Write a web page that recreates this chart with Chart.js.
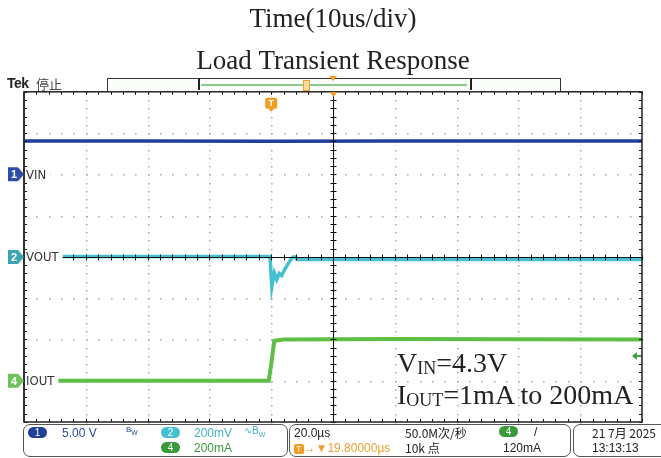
<!DOCTYPE html>
<html>
<head>
<meta charset="utf-8">
<script src="https://cdn.jsdelivr.net/npm/chart.js@4.4.0/dist/chart.umd.min.js"></script>
<style>
  body { margin: 0; background: #fff; }
  #wrap { position: relative; width: 661px; height: 458px; overflow: hidden; }
  #wrap canvas { position: absolute; left: 0; top: 0; }
  .ui { position: absolute; font-family: "Liberation Sans", Arial, sans-serif; font-size: 12px; color: #333; white-space: nowrap; }
  .cjk { font-family: "Noto Sans CJK SC", "Liberation Sans", sans-serif; }
  .box { position: absolute; border: 1px solid #555; border-radius: 7px; }
  .pill { position: absolute; width: 19px; height: 11px; border-radius: 6px; color: #fff; font: 10px "Liberation Sans", sans-serif; line-height: 11px; text-align: center; }
  .note { position: absolute; font-family: "Liberation Serif", "Times New Roman", serif; font-size: 28px; color: #222; white-space: nowrap; }
  .note sub { font-size: 18px; vertical-align: -2px; }
</style>
</head>
<body>
<div id="wrap">
  <canvas id="scopeChart" width="661" height="458"></canvas>

  <!-- top status row -->
  <div class="ui" style="left:7px;top:75px;font-weight:bold;font-size:14px;color:#222;letter-spacing:-0.5px;">Tek</div>
  <div class="ui cjk" style="left:36px;top:74px;font-size:13px;color:#444;">停止</div>
  <div style="position:absolute;left:107px;top:78px;width:452px;height:12px;border:1px solid #333;background:#fbfdfb;"></div>
  <div style="position:absolute;left:198px;top:78px;width:270px;height:12px;border-left:2px solid #222;border-right:2px solid #222;"></div>
  <div style="position:absolute;left:201px;top:84px;width:266px;height:2px;background:#8cc98c;"></div>
  <div style="position:absolute;left:303px;top:80px;width:5px;height:9px;border:1px solid #f0a030;background:#fbd9a0;"></div>
  <div style="position:absolute;left:329px;top:76px;width:0;height:0;border-left:4px solid transparent;border-right:4px solid transparent;border-top:5px solid #f39c1f;"></div>

  <!-- annotation -->
  <div class="note" style="left:397px;top:347px;">V<sub>IN</sub>=4.3V</div>
  <div class="note" style="left:397px;top:379px;">I<sub>OUT</sub>=1mA to 200mA</div>

  <!-- bottom status bar -->
  <div class="box" style="left:23px;top:424px;width:263px;height:31px;"></div>
  <div class="pill" style="left:28px;top:427px;background:#1f3f9a;">1</div>
  <div class="ui" style="left:62px;top:426px;color:#2a4aa0;">5.00 V</div>
  <div class="ui" style="left:126px;top:425px;font-size:8px;color:#2a4aa0;">B<sub>W</sub></div>
  <div class="pill" style="left:161px;top:427px;background:#45c0d0;">2</div>
  <div class="ui" style="left:194px;top:426px;color:#3fb3c3;">200mV</div>
  <div class="ui" style="left:244px;top:425px;font-size:10px;color:#3fb3c3;">∿B<sub style="font-size:7px">W</sub></div>
  <div class="pill" style="left:161px;top:442px;background:#3a9a3a;">4</div>
  <div class="ui" style="left:194px;top:441px;color:#3a9a3a;">200mA</div>

  <div class="box" style="left:289px;top:424px;width:280px;height:31px;"></div>
  <div class="ui" style="left:294px;top:426px;color:#222;">20.0µs</div>
  <div class="ui" style="left:294px;top:441px;color:#f0a030;"><span style="background:#f39c1f;color:#fff;font-size:9px;padding:0 2px;border-radius:2px;">T</span>→▼19.80000µs</div>
  <div class="ui cjk" style="left:405px;top:424px;color:#222;">50.0M次/秒</div>
  <div class="ui cjk" style="left:405px;top:439px;color:#222;">10k 点</div>
  <div class="pill" style="left:499px;top:426px;background:#3a9a3a;">4</div>
  <div class="ui" style="left:534px;top:425px;color:#222;">/</div>
  <div class="ui" style="left:503px;top:441px;color:#222;">120mA</div>

  <div class="box" style="left:573px;top:424px;width:100px;height:31px;"></div>
  <div class="ui cjk" style="left:592px;top:424px;color:#222;">21 7月 2025</div>
  <div class="ui" style="left:592px;top:441px;color:#222;">13:13:13</div>
</div>

<script>
// time axis in µs (10 div x 10us), vertical axis in scope divisions
const xTickValues = [0, 10, 20, 30, 40, 50, 60, 70, 80, 90, 100];
const yTickValues = [-4, -3, -2, -1, 0, 1, 2, 3, 4];

// CH1 - VIN
const timeVin = [0, 20, 40, 60, 80, 100];
const vinDiv = [2.81, 2.81, 2.80, 2.81, 2.81, 2.81];

// CH2 - VOUT (AC, 200mV/div)
const timeVout = [0, 20, 39.8, 40.1, 40.5, 40.9, 41.3, 41.7, 42.2, 42.6, 43.1, 43.5, 43.9, 44.2, 60, 100];
const voutDiv = [0.01, 0.01, 0.01, -0.73, -0.39, -0.55, -0.40, -0.45, -0.30, -0.20, -0.08, 0.0, 0.0, -0.06, -0.06, -0.06];

// CH4 - IOUT (200mA/div)
const timeIout = [0, 20, 39.6, 40.0, 40.5, 42, 60, 100];
const ioutDiv = [-3.0, -3.0, -3.0, -2.6, -2.03, -2.0, -1.99, -2.0];

// channel markers
const channelNames = ['VIN', 'VOUT', 'IOUT'];
const channelNumbers = ['1', '2', '4'];
const channelGround = [2.0, 0.0, -3.0];
const channelColors = ['#1f3f9a', '#45c0d0', '#5dbf45'];
const markerColors = ['#2c4ea8', '#3aa5b0', '#6cc35a'];

const triggerTime = 40;
const triggerLevelDiv = -2.4;

function pairs(xs, ys) {
    return xs.map((t, i) => ({ x: t, y: ys[i] }));
}

const scopeDecor = {
    id: 'scopeDecor',
    beforeDatasetsDraw(chart) {
        // dotted graticule
        const { ctx, scales: { x, y } } = chart;
        ctx.save();
        ctx.fillStyle = '#a8a8a8';
        xTickValues.slice(1, -1).forEach(t => {
            const px = Math.round(x.getPixelForValue(t));
            for (let j = 0; j <= 40; j++) {
                const py = Math.round(y.getPixelForValue(-4 + j / 5));
                ctx.fillRect(px, py, 1.5, 1.5);
            }
        });
        yTickValues.slice(1, -1).forEach(v => {
            const py = Math.round(y.getPixelForValue(v));
            for (let i = 0; i <= 50; i++) {
                const px = Math.round(x.getPixelForValue(i * 2));
                ctx.fillRect(px, py, 1.5, 1.5);
            }
        });
        ctx.fillStyle = '#dddddd';
        xTickValues.slice(1, -1).forEach(t => {
            const px = Math.round(x.getPixelForValue(t));
            for (let j = 0; j < 40; j++) {
                const py = Math.round(y.getPixelForValue(-4 + j / 5 + 0.1));
                ctx.fillRect(px, py, 1, 1);
            }
        });
        ctx.restore();
    },
    afterDatasetsDraw(chart) {
        const { ctx, chartArea: a, scales: { x, y } } = chart;
        const cx = Math.round(x.getPixelForValue(50)) + 0.5;
        const cy = Math.round(y.getPixelForValue(0)) + 0.5;
        ctx.save();

        // centre crosshair and minor ticks
        ctx.strokeStyle = '#111';
        ctx.lineWidth = 1;
        ctx.beginPath();
        ctx.moveTo(cx, a.top); ctx.lineTo(cx, a.bottom);
        ctx.moveTo(a.left, cy); ctx.lineTo(a.right, cy);
        for (let i = 0; i <= 50; i++) {
            const px = Math.round(x.getPixelForValue(i * 2)) + 0.5;
            ctx.moveTo(px, cy - 3); ctx.lineTo(px, cy + 3);
            ctx.moveTo(px, a.top); ctx.lineTo(px, a.top + 3);
            ctx.moveTo(px, a.bottom); ctx.lineTo(px, a.bottom - 3);
        }
        for (let i = -20; i <= 20; i++) {
            const py = Math.round(y.getPixelForValue(i / 5)) + 0.5;
            ctx.moveTo(cx - 3, py); ctx.lineTo(cx + 3, py);
            ctx.moveTo(a.left, py); ctx.lineTo(a.left + 3, py);
            ctx.moveTo(a.right, py); ctx.lineTo(a.right - 3, py);
        }
        ctx.stroke();

        // frame
        ctx.lineWidth = 1.5;
        ctx.strokeStyle = '#222';
        ctx.strokeRect(a.left, a.top, a.right - a.left, a.bottom - a.top);
        ctx.fillStyle = '#333';
        ctx.fillRect(a.left - 1, a.top, 2, a.bottom - a.top);

        // channel markers and names
        const labelFont = '13px "DejaVu Sans Condensed", "Liberation Sans", sans-serif';
        ctx.textBaseline = 'middle';
        channelNames.forEach((name, i) => {
            const gy = y.getPixelForValue(channelGround[i]);
            ctx.font = labelFont;
            const w = ctx.measureText(name).width;
            ctx.fillStyle = '#fff';
            ctx.fillRect(a.left + 1, gy - 7, w + 5, 14);
            ctx.fillStyle = '#333';
            ctx.textAlign = 'left';
            ctx.fillText(name, a.left + 2, gy + 1);

            ctx.fillStyle = markerColors[i];
            ctx.beginPath();
            ctx.moveTo(8, gy - 7);
            ctx.lineTo(a.left - 6, gy - 7);
            ctx.lineTo(a.left, gy);
            ctx.lineTo(a.left - 6, gy + 7);
            ctx.lineTo(8, gy + 7);
            ctx.closePath();
            ctx.fill();
            ctx.fillStyle = '#fff';
            ctx.textAlign = 'center';
            ctx.font = 'bold 11px "Liberation Sans", sans-serif';
            ctx.fillText(channelNumbers[i], 14, gy + 1);
        });

        // trigger position marker
        const tx = x.getPixelForValue(triggerTime);
        ctx.fillStyle = '#f39c1f';
        ctx.beginPath();
        ctx.roundRect(tx - 6, a.top + 6, 12, 11, 2);
        ctx.fill();
        ctx.beginPath();
        ctx.moveTo(tx - 3, a.top + 17); ctx.lineTo(tx + 3, a.top + 17); ctx.lineTo(tx, a.top + 20);
        ctx.fill();
        ctx.fillStyle = '#fff';
        ctx.font = 'bold 9px "Liberation Sans", sans-serif';
        ctx.fillText('T', tx, a.top + 12);

        // centre time pointer
        ctx.fillStyle = '#f39c1f';
        ctx.beginPath();
        ctx.moveTo(cx - 5, a.top - 1); ctx.lineTo(cx + 5, a.top - 1); ctx.lineTo(cx, a.top + 5);
        ctx.fill();

        // trigger level arrow
        const ly = y.getPixelForValue(triggerLevelDiv);
        ctx.strokeStyle = '#3aa03a';
        ctx.fillStyle = '#3aa03a';
        ctx.lineWidth = 2;
        ctx.beginPath();
        ctx.moveTo(a.right - 1, ly); ctx.lineTo(a.right - 7, ly);
        ctx.stroke();
        ctx.beginPath();
        ctx.moveTo(a.right - 10, ly); ctx.lineTo(a.right - 5, ly - 4); ctx.lineTo(a.right - 5, ly + 4);
        ctx.fill();

        ctx.restore();
    }
};

const ctx = document.getElementById('scopeChart');
new Chart(ctx, {
    type: 'line',
    data: {
        datasets: [{
            label: 'VIN',
            data: pairs(timeVin, vinDiv),
            borderColor: channelColors[0],
            borderWidth: 3.5
        }, {
            label: 'VOUT',
            data: pairs(timeVout, voutDiv),
            borderColor: channelColors[1],
            borderWidth: 3.5
        }, {
            label: 'IOUT',
            data: pairs(timeIout, ioutDiv),
            borderColor: channelColors[2],
            borderWidth: 4
        }]
    },
    options: {
        responsive: false,
        animation: false,
        events: [],
        elements: { point: { radius: 0 }, line: { tension: 0 } },
        layout: { padding: { left: 24, right: 19, top: 0, bottom: 36 } },
        plugins: {
            legend: { display: false },
            tooltip: { enabled: false },
            title: {
                display: true,
                text: 'Time(10us/div)',
                color: '#222',
                font: { family: '"Liberation Serif", "Times New Roman", serif', size: 27, weight: 'normal', lineHeight: 1.2 },
                padding: { top: 4, bottom: 4 }
            },
            subtitle: {
                display: true,
                text: 'Load Transient Response',
                color: '#222',
                font: { family: '"Liberation Serif", "Times New Roman", serif', size: 27, weight: 'normal', lineHeight: 1.2 },
                padding: { top: 5, bottom: 14 }
            }
        },
        scales: {
            x: {
                type: 'linear',
                min: 0,
                max: 100,
                afterBuildTicks: scale => { scale.ticks = xTickValues.map(v => ({ value: v })); },
                ticks: { display: false },
                grid: { display: false, drawTicks: false },
                border: { display: false }
            },
            y: {
                type: 'linear',
                min: -4,
                max: 4,
                afterBuildTicks: scale => { scale.ticks = yTickValues.map(v => ({ value: v })); },
                ticks: { display: false },
                grid: { display: false, drawTicks: false },
                border: { display: false }
            }
        }
    },
    plugins: [scopeDecor]
});
</script>
</body>
</html>
